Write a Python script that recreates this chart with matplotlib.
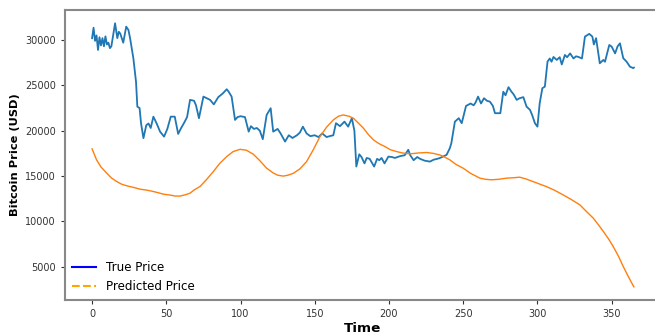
import matplotlib.pyplot as plt
from matplotlib.lines import Line2D

# ==========================================================
# Bitcoin price: true vs predicted (daily, one year)
# ==========================================================

true_days = [
    0, 1, 2, 3, 4, 5, 6, 7, 8, 9, 10, 11, 12, 13, 15.5, 17, 18, 19, 21, 23,
    24.5, 25.6, 27.8, 29.6, 30.5, 32, 33, 34.6, 36.5, 38, 39.5, 41.3, 43.5,
    45.8, 48.5, 50.7, 53, 55.7, 58, 60, 62, 64, 66, 68.7, 70, 72, 75, 77,
    79.5, 82, 85, 88, 90.7, 92, 94, 96.3, 98, 100, 103, 105.5, 107, 109, 111,
    113, 115, 117.6, 120.3, 122, 125, 127, 130, 132.5, 135, 138, 140, 142,
    144.5, 147, 150, 152.5, 155, 158, 160, 162.5, 164.3, 167, 170, 172.5,
    175, 176.7, 178, 180, 181.5, 183.5, 185, 187, 190, 192, 193.5, 195, 197,
    199.6, 202, 204, 207.5, 210.6, 213, 214.3, 216.6, 219, 221, 224, 227.6,
    230, 234, 238.8, 241, 242, 244.4, 247, 249, 251.9, 255, 257, 258.3, 260,
    262, 264, 266, 268, 270, 271.4, 275, 277, 278.5, 280.5, 282.5, 284, 286,
    288, 290.5, 292.7, 295, 296.5, 298.3, 300, 301.5, 303.3, 305, 306.8,
    308.3, 309.5, 310.8, 313, 315, 316.4, 318.5, 320, 322, 324.3, 326, 327.6,
    330, 332, 334.9, 337, 338, 339.5, 342, 344.4, 345.5, 348.4, 350, 352.3,
    354, 355.6, 357.8, 360, 362.3, 364.5, 365,
]
true_price = [
    30190, 31350, 29900, 30500, 28900, 30300, 29400, 30200, 29300, 30400,
    29500, 29700, 29100, 29300, 31840, 30200, 30900, 30700, 29700, 31470,
    31100, 30200, 28000, 25400, 22650, 22500, 20800, 19180, 20600, 20800,
    20300, 21550, 20800, 19900, 19350, 20200, 21550, 21550, 19650, 20300,
    20870, 21500, 23400, 23300, 22800, 21380, 23760, 23600, 23400, 22900,
    23700, 24100, 24570, 24300, 23760, 21190, 21500, 21600, 21500, 19900,
    20500, 20200, 20300, 20000, 19070, 21740, 22480, 19900, 20200, 19700,
    18800, 19500, 19200, 19500, 19800, 20450, 19700, 19400, 19500, 19300,
    19700, 19300, 19400, 19500, 20830, 20500, 21000, 20450, 21380, 20000,
    16050, 17400, 17100, 16400, 17000, 16900, 16050, 16900, 16750, 17000,
    16400, 17150, 17100, 17000, 17200, 17300, 17900, 17300, 16750, 17100,
    16900, 16700, 16600, 16800, 16970, 17340, 18080, 18620, 21000, 21380,
    20830, 22730, 23000, 22800, 23100, 23760, 23000, 23580, 23300, 23200,
    22730, 21930, 21930, 24300, 23900, 24800, 24300, 24000, 23400, 23580,
    23700, 22650, 22300, 21700, 20830, 20450, 23000, 24680, 24860, 27620,
    27960, 27600, 28130, 27800, 28100, 27300, 28350, 28100, 28520, 27960,
    28200, 28130, 27960, 30370, 30670, 30370, 29500, 30200, 27430, 27800,
    27600, 29450, 29270, 28520, 29300, 29630, 27990, 27620, 27060, 26900,
    26950,
]

pred_days = [
    0, 3, 6, 9.9, 13, 16.6, 20, 23.4, 28, 32.3, 37, 41.3, 45, 48, 53, 56,
    59.3, 63, 66, 69, 72.7, 77, 81.7, 86, 90.7, 95, 99.7, 104, 108.7, 113,
    117.6, 122, 125, 128.8, 132, 135.6, 140, 144.5, 149, 153.5, 158, 162.5,
    166, 169.2, 173, 176, 179, 182.8, 186, 189.5, 193, 197.3, 201, 205.2,
    209, 214.1, 220, 225.4, 230, 234.8, 238, 241, 245, 250, 255, 261.3, 265,
    269, 274, 279, 284, 288, 292, 297, 301, 306, 312, 317.3, 323, 328.6, 333,
    337.6, 341, 344.4, 348, 351, 354.5, 357.8, 361, 364.5, 365,
]
pred_price = [
    18000, 16800, 16000, 15320, 14800, 14400, 14100, 13930, 13750, 13560,
    13450, 13300, 13150, 13010, 12900, 12800, 12800, 12950, 13120, 13500,
    13850, 14600, 15500, 16400, 17150, 17700, 17950, 17850, 17400, 16700,
    15870, 15350, 15100, 15000, 15100, 15310, 15800, 16600, 17900, 19350,
    20400, 21190, 21600, 21740, 21600, 21380, 20900, 20280, 19600, 19000,
    18600, 18250, 17900, 17700, 17550, 17450, 17550, 17600, 17500, 17300,
    17050, 16790, 16300, 15870, 15300, 14770, 14650, 14590, 14650, 14770,
    14820, 14880, 14700, 14400, 14150, 13850, 13400, 12930, 12400, 11830,
    11100, 10370, 9650, 8900, 8050, 7250, 6200, 5040, 4000, 2920, 2800,
]

legend_labels = ["True Price", "Predicted Price"]

# ==========================================================
# Plot
# ==========================================================

fig = plt.figure(figsize=(6.55, 3.34), dpi=100)
ax = fig.add_axes([0.0992, 0.1018, 0.910, 0.868])

ax.plot(true_days, true_price, color="#1f77b4", linewidth=1.3)
ax.plot(pred_days, pred_price, color="#ff7f0e", linewidth=1.0)

ax.set_xlabel("Time", fontsize=9.7, fontweight="bold", labelpad=2)
ax.set_ylabel("Bitcoin Price (USD)", fontsize=8.2, fontweight="bold")

ax.tick_params(labelsize=7, colors="#333333", length=3)
for side in ["top", "bottom", "left"]:
    ax.spines[side].set_color("#888888")
    ax.spines[side].set_linewidth(1.5)
ax.spines["right"].set_visible(False)

handles = [
    Line2D([0], [0], color="blue", linewidth=1.5),
    Line2D([0], [0], color="orange", linewidth=1.5, linestyle="--"),
]
ax.legend(handles, legend_labels, loc="lower left", fontsize=8.6,
          frameon=False, borderaxespad=0.2)

fig.savefig("out.png", dpi=100)
